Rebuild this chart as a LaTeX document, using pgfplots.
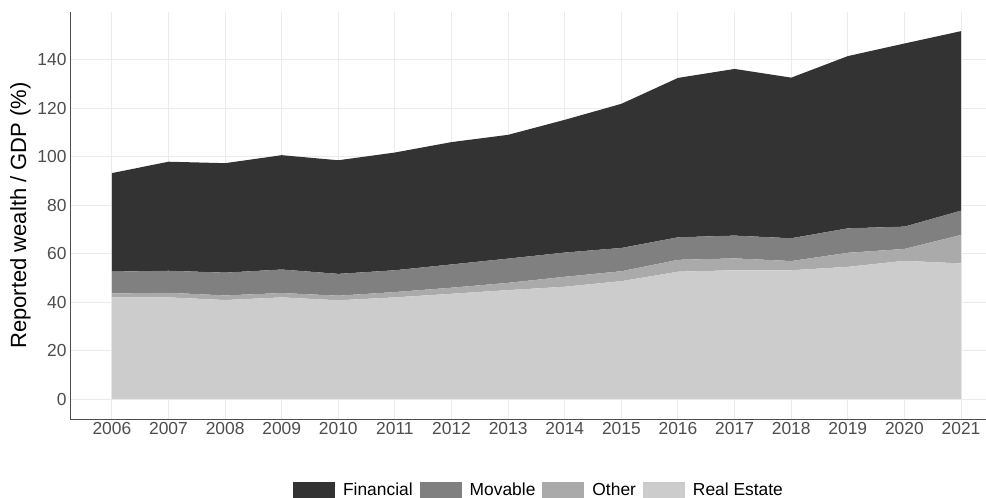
\documentclass[border=0pt]{standalone}
\usepackage{pgfplots}
\pgfplotsset{compat=1.18}
\usepackage{pgfplotstable}
\usepackage{fontspec}
\setmainfont{Liberation Sans}
\definecolor{cfin}{HTML}{333333}
\definecolor{cmov}{HTML}{808080}
\definecolor{coth}{HTML}{AAAAAA}
\definecolor{cre}{HTML}{CCCCCC}
\definecolor{cgrid}{HTML}{EBEBEB}
\definecolor{ctick}{HTML}{4D4D4D}
\pgfplotstableread{
year re other movable financial
2006 42.0 1.6 9.0 40.7
2007 42.0 1.9 9.1 45.0
2008 40.9 1.9 9.4 45.2
2009 42.0 1.8 9.7 47.2
2010 40.8 1.9 9.0 46.9
2011 42.0 2.2 9.0 48.6
2012 43.5 2.5 9.6 50.5
2013 45.0 3.0 10.0 51.1
2014 46.4 4.1 10.0 54.8
2015 48.7 4.1 9.6 59.5
2016 52.6 4.9 9.3 65.8
2017 53.2 4.9 9.4 68.8
2018 53.2 3.8 9.4 66.3
2019 54.6 5.8 10.1 71.1
2020 57.1 4.9 9.2 75.6
2021 56.0 11.8 10.0 74.1
}\wealth
\begin{document}
\begin{tikzpicture}
\begin{axis}[
  at={(0,0)}, anchor=south west,
  scale only axis,
  width=916bp, height=407bp,
  xmin=2005.26, xmax=2021.44,
  ymin=-8.2, ymax=159.8,
  xtick={2006,...,2021},
  ytick={0,20,...,140},
  /pgf/number format/1000 sep={},
  /pgf/number format/assume math mode=true,
  ticklabel style={font=\fontsize{17.4bp}{20bp}\selectfont, text=ctick},
  major tick length=0pt,
  axis lines*=left,
  axis line style={draw=ctick, line width=1bp},
  grid=major,
  major grid style={draw=cgrid, line width=1bp},
  ylabel={Reported wealth / GDP (\%)},
  ylabel style={font=\fontsize{22bp}{26bp}\selectfont, text=black},
  stack plots=y,
  reverse legend,
  legend columns=4,
  legend style={at={(0.512,-0.175)}, anchor=center, draw=none, fill=none,
    font=\fontsize{17.4bp}{20bp}\selectfont,
    /tikz/every odd column/.append style={column sep=6bp},
    /tikz/every even column/.append style={column sep=5bp},
    nodes={inner xsep=2bp}},
  legend image code/.code={\fill[#1] (0bp,-8.5bp) rectangle (42bp,8.5bp);},
]
\addplot[fill=cre, draw=none] table[x=year, y=re] {\wealth} \closedcycle;
\addlegendentry{Real Estate}
\addplot[fill=coth, draw=none] table[x=year, y=other] {\wealth} \closedcycle;
\addlegendentry{Other}
\addplot[fill=cmov, draw=none] table[x=year, y=movable] {\wealth} \closedcycle;
\addlegendentry{Movable}
\addplot[fill=cfin, draw=none] table[x=year, y=financial] {\wealth} \closedcycle;
\addlegendentry{Financial}
\end{axis}
\pgfresetboundingbox
\useasboundingbox (-70bp,-79bp) rectangle (916bp,419bp);
\end{tikzpicture}
\end{document}
